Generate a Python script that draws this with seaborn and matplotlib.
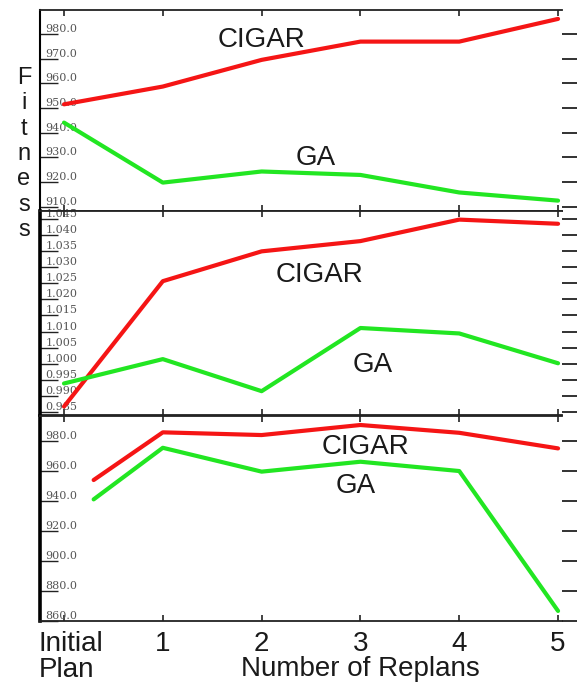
import matplotlib
matplotlib.use("Agg")
import matplotlib.pyplot as plt
import numpy as np
import pandas as pd
import seaborn as sns
from matplotlib.transforms import ScaledTranslation

# ---- data -------------------------------------------------------------
methods = ["CIGAR", "GA"]
replan_ticks = [0, 1, 2, 3, 4, 5]
replan_labels = ["Initial\nPlan", "1", "2", "3", "4", "5"]

steps_top = [0, 1, 2, 3, 4, 5]
cigar_top = [951.5, 958.7, 969.5, 976.9, 976.9, 986.1]
ga_top = [944.1, 919.8, 924.3, 922.9, 915.8, 912.5]
yticks_top = [910, 920, 930, 940, 950, 960, 970, 980]
ylabels_top = ["910.0", "920.0", "930.0", "940.0", "950.0", "960.0", "970.0", "980.0"]

steps_mid = [0, 1, 2, 3, 4, 5]
cigar_mid = [0.9866, 1.0257, 1.0350, 1.0382, 1.0449, 1.0436]
ga_mid = [0.9938, 1.0014, 0.9914, 1.0111, 1.0094, 1.0001]
yticks_mid = [0.985, 0.990, 0.995, 1.000, 1.005, 1.010, 1.015,
              1.020, 1.025, 1.030, 1.035, 1.040, 1.045]
ylabels_mid = ["0.985", "0.990", "0.995", "1.000", "1.005", "1.010", "1.015",
               "1.020", "1.025", "1.030", "1.035", "1.040", "1.045"]

steps_bot = [0.3, 1, 2, 3, 4, 5]
cigar_bot = [954.0, 985.8, 984.0, 990.7, 985.5, 975.1]
ga_bot = [941.1, 975.5, 959.6, 966.2, 960.0, 866.7]
yticks_bot = [860, 880, 900, 920, 940, 960, 980]
ylabels_bot = ["860.0", "880.0", "900.0", "920.0", "940.0", "960.0", "980.0"]

# ---- style ------------------------------------------------------------
sns.set_theme(style="white")
plt.rcParams["font.family"] = ["Liberation Sans", "DejaVu Sans"]
palette = {"CIGAR": "#f51515", "GA": "#22e622"}

W, H = 578, 683
fig = plt.figure(figsize=(W / 100, H / 100), dpi=100)


def px_box(top, bottom, left=40, right=562):
    return [left / W, 1 - bottom / H, (right - left) / W, (bottom - top) / H]


def draw_panel(ax, steps, cigar, ga, ylim, yticks, ylabels,
               cigar_pos, ga_pos, left_lw):
    df = pd.DataFrame({
        "step": steps + steps,
        "fitness": cigar + ga,
        "method": [methods[0]] * len(steps) + [methods[1]] * len(steps),
    })
    sns.lineplot(data=df, x="step", y="fitness", hue="method",
                 palette=palette, linewidth=3, estimator=None,
                 sort=False, legend=False, ax=ax)
    ax.set_xlim(-0.243, 5.04)
    ax.set_ylim(*ylim)
    ax.set_xlabel("")
    ax.set_ylabel("")

    # frame
    ax.spines["right"].set_visible(False)
    for side in ("top", "bottom"):
        ax.spines[side].set_color("#222222")
        ax.spines[side].set_linewidth(1.3)
    ax.spines["left"].set_color("black")
    ax.spines["left"].set_linewidth(left_lw)

    # x ticks inward on both edges
    ax.set_xticks(replan_ticks)
    ax.tick_params(axis="x", direction="in", top=True, bottom=True,
                   length=4, width=1.2, color="#222222", labelbottom=False)

    # y tick labels sit inside the frame on top of long inward ticks
    ax.set_yticks(yticks, ylabels)
    ax.tick_params(axis="y", direction="in", left=True, right=False,
                   length=13, width=1.0, color="#222222", pad=-4,
                   labelsize=8, labelcolor="#555555")
    for lab in ax.get_yticklabels():
        lab.set_ha("left")
        lab.set_va("bottom")
        lab.set_fontfamily("DejaVu Serif")

    # outward ticks on the right edge
    sec = ax.secondary_yaxis("right")
    sec.set_yticks(yticks)
    sec.tick_params(direction="out", length=11, width=1.3,
                    color="#222222", labelright=False)
    sec.spines["right"].set_visible(False)

    ax.text(*cigar_pos, "CIGAR", fontsize=20, color="#1a1a1a",
            ha="center", va="baseline")
    ax.text(*ga_pos, "GA", fontsize=20, color="#1a1a1a",
            ha="center", va="baseline")


ax1 = fig.add_axes(px_box(10, 210.5))
ax2 = fig.add_axes(px_box(210.5, 415))
ax3 = fig.add_axes(px_box(416, 621))

draw_panel(ax1, steps_top, cigar_top, ga_top, (908.5, 989.7),
           yticks_top, ylabels_top, (2.0, 974.7), (2.55, 927.0), 1.5)
draw_panel(ax2, steps_mid, cigar_mid, ga_mid, (0.98397, 1.04774),
           yticks_mid, ylabels_mid, (2.59, 1.02535), (3.12, 0.99735), 2.6)
draw_panel(ax3, steps_bot, cigar_bot, ga_bot, (860, 996.7),
           yticks_bot, ylabels_bot, (3.05, 971.3), (2.95, 945.3), 2.6)

# category labels under the bottom panel
ax3.set_xticks(replan_ticks, replan_labels)
ax3.tick_params(axis="x", labelbottom=True, labelsize=20,
                labelcolor="#1a1a1a", pad=7)
xlabs = ax3.get_xticklabels()
for lab in xlabs:
    lab.set_linespacing(0.99)
xlabs[0].set_multialignment("left")
xlabs[0].set_transform(xlabs[0].get_transform()
                       + ScaledTranslation(0.07, 0, fig.dpi_scale_trans))

ax3.set_xlabel("Number of Replans", fontsize=20, color="#1a1a1a")
ax3.xaxis.set_label_coords(0.613, -0.268)
ax3.xaxis.label.set_va("baseline")

# stacked vertical axis title
fig.text(24 / W, 1 - 154 / H, "F\ni\nt\nn\ne\ns\ns", fontsize=17,
         color="#1a1a1a", ha="center", va="center", linespacing=1.2)

fig.savefig("out.png", dpi=100)
